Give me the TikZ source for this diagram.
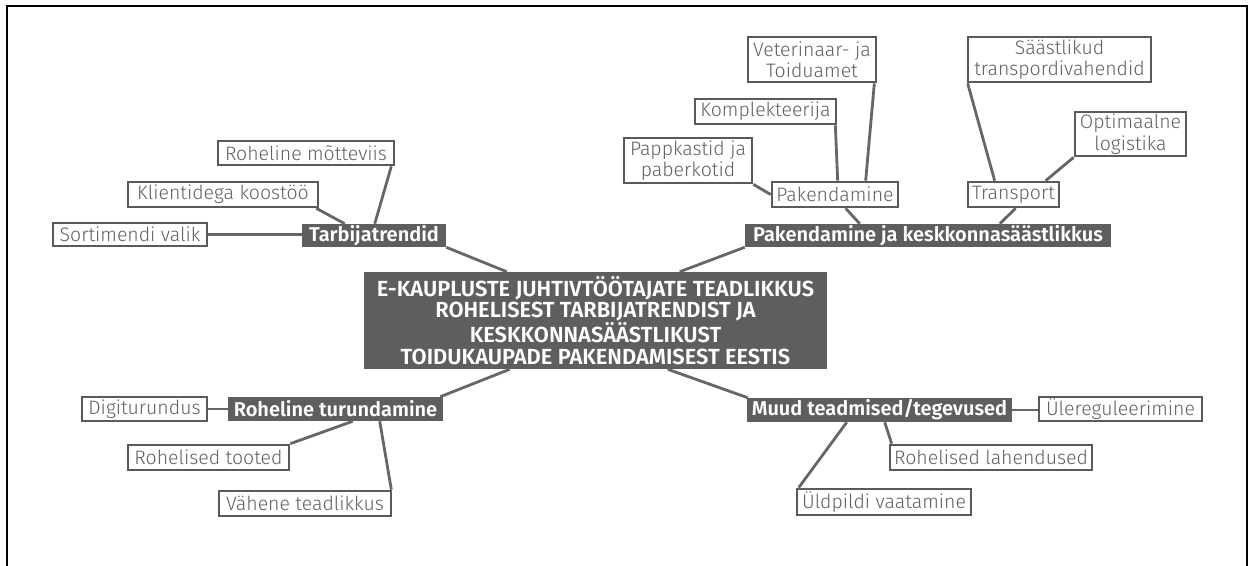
\documentclass[tikz,border=0pt]{standalone}
\usepackage{fontspec}
\setmainfont{Fira Sans}
\IfFontExistsTF{Fira Sans Light}{\newfontfamily\leaffont{Fira Sans Light}}{\newfontfamily\leaffont{Fira Sans}}
\IfFontExistsTF{Fira Sans SemiBold}{\newfontfamily\topicfont{Fira Sans SemiBold}}{\newfontfamily\topicfont{Fira Sans}[UprightFont=*,BoldFont=*]}
\usetikzlibrary{calc}
\definecolor{topicgray}{HTML}{5E5E5E}
\definecolor{leafgray}{HTML}{5A5A5A}
\definecolor{leaftext}{HTML}{606060}
\definecolor{linegray}{HTML}{666666}
\tikzset{
  leaf/.style={draw=leafgray, line width=2pt, fill=white, text=leaftext, inner sep=0pt, align=center, font=\leaffont\fontsize{14.6}{16}\selectfont},
  topic/.style={fill=topicgray, text=white, inner sep=0pt, align=center, font=\topicfont\fontsize{15}{16}\selectfont},
  maintopic/.style={topic, font=\topicfont\fontsize{16.4}{16.4}\selectfont},
  conn/.style={draw=linegray, line width=2.1pt},
  frameline/.style={draw=black, line width=1.6pt}
}
\newcommand\boxnode[7]{\node[#1, minimum width={(#5-#3)*0.75pt}, minimum height={(#6-#4)*0.75pt}] (#2) at ({(#3+#5)/2},{(#4+#6)/2}) {#7};}
\begin{document}
\begin{tikzpicture}[x=0.75pt, y=-0.75pt]
\useasboundingbox (0,0) rectangle (1254,565);
\fill[white] (0,0) rectangle (1254,565);
\draw[frameline] (7,566) -- (7,6) -- (1247,6) -- (1247,566);
% nodes
\boxnode{maintopic}{center}{364}{272}{827}{369}{E-KAUPLUSTE JUHTIVTÖÖTAJATE TEADLIKKUS\\ROHELISEST TARBIJATRENDIST JA\\KESKKONNASÄÄSTLIKUST\\TOIDUKAUPADE PAKENDAMISEST EESTIS}
\boxnode{topic}{tarb}{302}{224}{446}{247}{Tarbijatrendid}
\boxnode{leaf}{sort}{53}{223}{207}{246}{Sortimendi valik}
\boxnode{leaf}{klient}{128}{182}{318}{207}{Klientidega koostöö}
\boxnode{leaf}{rohmot}{218}{141}{394}{165}{Roheline mõtteviis}
\boxnode{topic}{pakk}{745}{224}{1111}{247}{Pakendamine ja keskkonnasäästlikkus}
\boxnode{leaf}{pak}{772}{182}{898}{207}{Pakendamine}
\boxnode{leaf}{papp}{624}{138}{752}{183}{Pappkastid ja\\paberkotid}
\boxnode{leaf}{kompl}{695}{99}{836}{124}{Komplekteerija}
\boxnode{leaf}{vet}{748}{37}{876}{82}{Veterinaar- ja\\Toiduamet}
\boxnode{leaf}{transp}{968}{182}{1059}{207}{Transport}
\boxnode{leaf}{saast}{968}{37}{1151}{82}{Säästlikud\\transpordivahendid}
\boxnode{leaf}{opt}{1075}{112}{1186}{156}{Optimaalne\\logistika}
\boxnode{topic}{rohtur}{228}{397}{443}{421}{Roheline turundamine}
\boxnode{leaf}{digi}{82}{397}{207}{421}{Digiturundus}
\boxnode{leaf}{rohtoot}{128}{445}{289}{470}{Rohelised tooted}
\boxnode{leaf}{vahene}{219}{491}{391}{516}{Vähene teadlikkus}
\boxnode{topic}{muud}{747}{398}{1012}{422}{Muud teadmised/tegevused}
\boxnode{leaf}{uler}{1039}{397}{1202}{421}{Ülereguleerimine}
\boxnode{leaf}{rohlah}{890}{445}{1092}{470}{Rohelised lahendused}
\boxnode{leaf}{uldp}{797}{489}{971}{515}{Üldpildi vaatamine}
% connectors
\draw[conn] (sort.east) -- (sort.east -| tarb.west);
\draw[conn] ($(klient.south east)+(-3,0)$) -- ($(tarb.north west)+(43,0)$);
\draw[conn] ($(rohmot.south east)+(-4,0)$) -- ($(tarb.north west)+(73,0)$);
\draw[conn] (tarb.south east) -- ($(center.north west)+(143,0)$);
\draw[conn] (papp.south east) -- (pak.west);
\draw[conn] ($(kompl.south east)+(-2,0)$) -- ($(pak.north west)+(67,0)$);
\draw[conn] ($(vet.south east)+(-3,0)$) -- ($(pak.north west)+(95,0)$);
\draw[conn] ($(pak.south west)+(75,0)$) -- ($(pakk.north west)+(115,0)$);
\draw[conn] ($(saast.south west)+(1,0)$) -- ($(transp.north west)+(28,0)$);
\draw[conn] (opt.south west) -- ($(transp.north west)+(79,0)$);
\draw[conn] ($(transp.south west)+(49,0)$) -- ($(pakk.north west)+(255,0)$);
\draw[conn] (pakk.south west) -- ($(center.north west)+(316,0)$);
\draw[conn] ($(rohtur.north east)+(-3,0)$) -- ($(center.south west)+(146,0)$);
\draw[conn] (digi.east) -- (digi.east -| rohtur.west);
\draw[conn] (rohtoot.north east) -- ($(rohtur.south west)+(125,0)$);
\draw[conn] ($(vahene.north east)+(-1,0)$) -- ($(rohtur.south west)+(152,0)$);
\draw[conn] ($(muud.north west)+(1,0)$) -- ($(center.south west)+(304,0)$);
\draw[conn] (muud.east) -- (muud.east -| uler.west);
\draw[conn] ($(muud.south west)+(138,0)$) -- ($(rohlah.north west)+(3,0)$);
\draw[conn] ($(muud.south west)+(100,0)$) -- ($(uldp.north west)+(3,0)$);
\end{tikzpicture}
\end{document}
